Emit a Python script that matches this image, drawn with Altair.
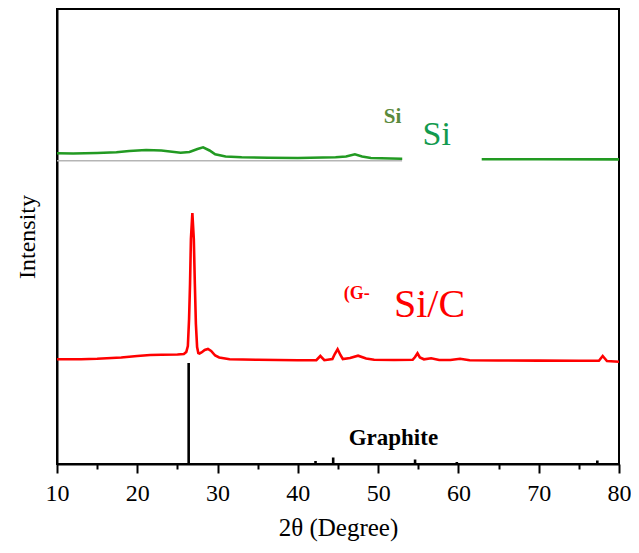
import altair as alt
import pandas as pd

# ---- data (2theta in degrees, intensity in arbitrary offset units)
si_theta = [10, 12, 15, 17.4, 19, 21.1, 23, 25.4, 26.5, 27.5, 28.2, 29, 29.7, 31, 33, 36.3,
            40, 44.7, 46, 47.1, 48, 49.1, 52.9, 55, 63, 70, 80]
si_int = [310.7, 310.5, 311, 311.7, 313, 314, 313.5, 311.3, 312, 315, 316.7, 313.5, 309.7,
          307.5, 306.8, 306.3, 306, 306.7, 307.5, 309.7, 307.5, 306, 305.3, 305, 304.7, 304.7, 304.6]

gsic_theta = [10, 13, 15, 18, 20, 21.6, 23, 25, 25.8, 26.1, 26.3, 26.45, 26.57, 26.68, 26.86,
              27.04, 27.17, 27.3, 27.45, 27.6, 27.75, 28.0, 28.4, 28.8, 29.2, 29.7, 30.2, 31.5,
              35, 40, 42.3, 42.8, 43.3, 44.3, 44.6, 44.95, 45.3, 45.6, 46.5, 47.5, 48.5, 49.5,
              52, 54.3, 54.6, 54.9, 55.2, 55.7, 56.6, 57.6, 59, 60.2, 61.4, 65, 70, 75, 77.5,
              77.97, 78.5, 80]
gsic_int = [104.7, 104.8, 105.2, 106.5, 108, 109, 109.2, 109.5, 110, 112, 118, 145, 180, 225, 251,
            225, 180, 140, 117, 111, 110.5, 111.5, 114, 115, 113, 108.5, 106.5, 104.7,
            104.2, 103.8, 103.8, 108, 103.8, 105, 110, 114.7, 109, 105, 106, 108.3, 105.5, 104.3,
            104, 104.2, 107, 110.7, 106.5, 104.7, 105.8, 104, 104, 105.3, 103.7, 103.5, 103.4, 103.3, 103.3,
            108, 103, 102.3]

graphite_theta = [26.4, 42.2, 44.4, 54.6, 59.8, 77.3]
graphite_int = [101, 3, 6.5, 4.5, 2, 3.5]

ref_theta = [10, 53]
ref_int = [303.3, 303.3]

x_ticks = [10, 15, 20, 25, 30, 35, 40, 45, 50, 55, 60, 65, 70, 75, 80]

# label boxes and texts
box_x = [53.0, 49.3]
box_x2 = [62.9, 66.6]
box_y = [299, 126]
box_y2 = [365, 199]

lab_text = ["Si", "Si", "(G-", "Si/C", "Graphite"]
lab_x = [51.8, 57.3, 47.35, 56.4, 51.9]
lab_y = [340.7, 319, 165, 147, 19]
lab_size = [21, 34, 18, 40, 23]
lab_weight = ["bold", "normal", "bold", "normal", "bold"]
lab_color = ["#5a8a3c", "#129a4e", "#ff0000", "#ff0000", "#000000"]

FONT = "Liberation Serif"

xscale = alt.Scale(domain=[10, 80], nice=False, zero=False)
yscale = alt.Scale(domain=[0, 455], nice=False, zero=False)

x_axis = alt.Axis(
    values=x_ticks,
    labelExpr="datum.value % 10 === 0 ? datum.label : ''",
    tickSize={"condition": {"test": "datum.value % 10 === 0", "value": 9}, "value": 5},
    tickWidth=2, tickColor="black", domainColor="black", domainWidth=2,
    labelFont=FONT, labelFontSize=24, labelColor="black", labelPadding=8,
    title="2θ (Degree)", titleFont=FONT, titleFontSize=25, titleFontWeight="normal",
    titleColor="black", titlePadding=10, grid=False, labelFlush=False,
)
y_axis = alt.Axis(
    ticks=False, labels=False, grid=False, domainColor="black", domainWidth=2,
    title="Intensity", titleFont=FONT, titleFontSize=24, titleFontWeight="normal",
    titleColor="black", titlePadding=18,
)

ref_df = pd.DataFrame({"theta": ref_theta, "I": ref_int})
si_df = pd.DataFrame({"theta": si_theta, "I": si_int})
gsic_df = pd.DataFrame({"theta": gsic_theta, "I": gsic_int})
gr_df = pd.DataFrame({"theta": graphite_theta, "I": graphite_int, "zero": [0] * len(graphite_theta)})
box_df = pd.DataFrame({"x": box_x, "x2": box_x2, "y": box_y, "y2": box_y2})

ref_line = alt.Chart(ref_df).mark_line(color="#b5b5b5", strokeWidth=1.5).encode(
    x=alt.X("theta:Q", scale=xscale, axis=x_axis),
    y=alt.Y("I:Q", scale=yscale, axis=y_axis),
)
si_line = alt.Chart(si_df).mark_line(color="#229a22", strokeWidth=2.6).encode(
    x=alt.X("theta:Q", scale=xscale), y=alt.Y("I:Q", scale=yscale)
)
gsic_line = alt.Chart(gsic_df).mark_line(color="#ff0000", strokeWidth=2.6).encode(
    x=alt.X("theta:Q", scale=xscale), y=alt.Y("I:Q", scale=yscale)
)
sticks = alt.Chart(gr_df).mark_rule(color="black", strokeWidth=2.6).encode(
    x=alt.X("theta:Q", scale=xscale), y=alt.Y("zero:Q", scale=yscale), y2="I:Q"
)
boxes = alt.Chart(box_df).mark_rect(color="white").encode(
    x=alt.X("x:Q", scale=xscale), x2="x2:Q", y=alt.Y("y:Q", scale=yscale), y2="y2:Q"
)

layers = [ref_line, si_line, gsic_line, sticks, boxes]
for t, xv, yv, s, w, c in zip(lab_text, lab_x, lab_y, lab_size, lab_weight, lab_color):
    d = pd.DataFrame({"theta": [xv], "I": [yv], "label": [t]})
    layers.append(
        alt.Chart(d).mark_text(font=FONT, fontSize=s, fontWeight=w, color=c,
                               align="center", baseline="alphabetic").encode(
            x=alt.X("theta:Q", scale=xscale), y=alt.Y("I:Q", scale=yscale), text="label:N"
        )
    )

chart = alt.layer(*layers).properties(
    width=562, height=455,
    autosize=alt.AutoSizeParams(type="none"),
    padding={"left": 49, "top": 1, "right": 12, "bottom": 80},
).configure(background="white").configure_view(stroke="black", strokeWidth=2)

chart.save("out.html", embed_options={"renderer": "svg", "actions": False})
